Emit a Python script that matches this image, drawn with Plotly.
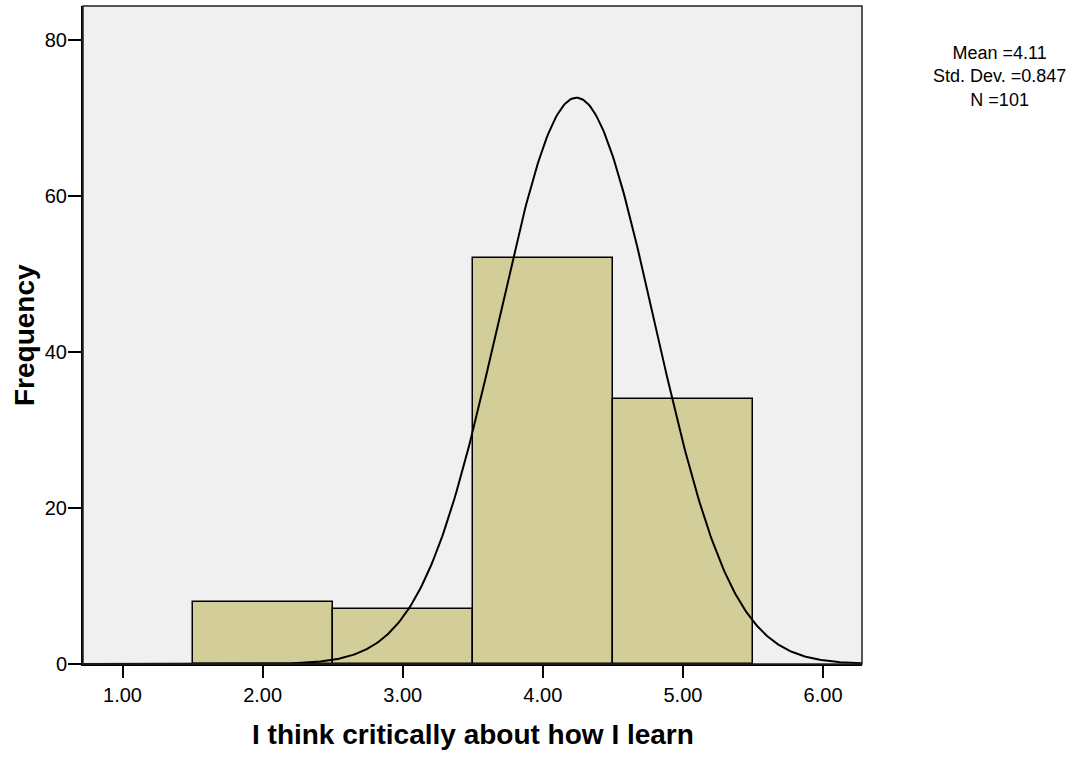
import numpy as np
import plotly.graph_objects as go

# Histogram data (bin centres, counts)
bin_centers = [2.0, 3.0, 4.0, 5.0]
counts = [8, 7, 52, 34]
bin_width = 1.0

# Fitted normal curve as drawn (peak near 4.24)
curve_mean = 4.24
curve_sd = 0.555
n_total = 101

x_ticks = [1, 2, 3, 4, 5, 6]
x_ticklabels = ["1.00", "2.00", "3.00", "4.00", "5.00", "6.00"]
y_ticks = [0, 20, 40, 60, 80]

stats_lines = ["Mean =4.11", "Std. Dev. =0.847", "N =101"]
x_title = "I think critically about how I learn"
y_title = "Frequency"

x_range = [0.718, 6.278]
y_range = [0, 84.36]

xc = np.linspace(x_range[0], x_range[1], 500)
yc = n_total * bin_width / (curve_sd * np.sqrt(2 * np.pi)) * np.exp(-0.5 * ((xc - curve_mean) / curve_sd) ** 2)

font = "Arial, Liberation Sans, sans-serif"

fig = go.Figure()
fig.add_trace(go.Bar(
    x=bin_centers, y=counts, width=bin_width,
    marker=dict(color="#d3ce99", line=dict(color="black", width=1.5)),
    hoverinfo="x+y", showlegend=False,
))
fig.add_trace(go.Scatter(
    x=xc, y=yc, mode="lines", line=dict(color="black", width=2),
    hoverinfo="skip", showlegend=False,
))

annotations = [
    dict(text="<b>%s</b>" % y_title, xref="paper", yref="paper", x=-0.0757, y=0.5,
         xanchor="center", yanchor="middle", textangle=-90, showarrow=False,
         font=dict(size=28, family=font)),
    dict(text="<b>%s</b>" % x_title, xref="paper", yref="paper",
         x=0.5, y=-0.1071, xanchor="center", yanchor="middle", showarrow=False,
         font=dict(size=28, family=font)),
    dict(text="<br>".join(stats_lines), xref="paper", yref="paper", x=1.1759, y=0.8924,
         xanchor="center", yanchor="middle", showarrow=False, align="center",
         font=dict(size=18, family=font)),
]

fig.update_layout(
    width=1083, height=757,
    margin=dict(l=83, r=221, t=6, b=93),
    paper_bgcolor="white", plot_bgcolor="#f0f0f0",
    font=dict(family=font, color="black", size=20),
    bargap=0,
    xaxis=dict(
        range=x_range, tickvals=x_ticks, ticktext=x_ticklabels,
        showgrid=False, zeroline=False, showline=True, linecolor="black", linewidth=2,
        ticks="outside", ticklen=12, tickwidth=2, tickcolor="black",
        tickfont=dict(size=20, family=font),
    ),
    yaxis=dict(
        range=y_range, tickvals=y_ticks,
        showgrid=False, zeroline=False, showline=True, linecolor="black", linewidth=2,
        ticks="outside", ticklen=13, tickwidth=2, tickcolor="black",
        tickfont=dict(size=20, family=font),
        ticklabelstandoff=-3,
    ),
    shapes=[dict(type="rect", xref="paper", yref="paper", x0=0, x1=1, y0=0, y1=1,
                 line=dict(color="#222222", width=1.5), layer="above")],
    annotations=annotations,
)

fig.write_html("out.html", config={"displayModeBar": False},
               post_script="document.body.style.margin='0';document.body.style.overflow='hidden';")
